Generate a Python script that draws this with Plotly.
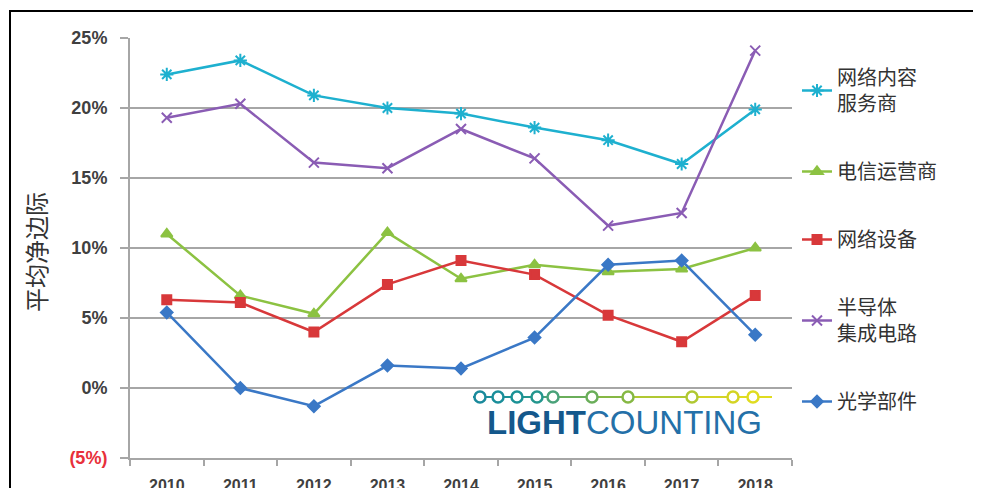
import plotly.graph_objects as go

years = ["2010", "2011", "2012", "2013", "2014", "2015", "2016", "2017", "2018"]

icp = [22.4, 23.4, 20.9, 20.0, 19.6, 18.6, 17.7, 16.0, 19.9]      # 网络内容服务商
telco = [11.0, 6.6, 5.3, 11.1, 7.8, 8.8, 8.3, 8.5, 10.0]          # 电信运营商
neteq = [6.3, 6.1, 4.0, 7.4, 9.1, 8.1, 5.2, 3.3, 6.6]             # 网络设备
semi = [19.3, 20.3, 16.1, 15.7, 18.5, 16.4, 11.6, 12.5, 24.1]     # 半导体集成电路
optic = [5.4, 0.0, -1.3, 1.6, 1.4, 3.6, 8.8, 9.1, 3.8]            # 光学部件

series_names = ["网络内容<br>服务商", "电信运营商", "网络设备", "半导体<br>集成电路", "光学部件"]
tick_vals = [-5, 0, 5, 10, 15, 20, 25]
tick_text = ["<span style='color:#e8303a'>(5%)</span>", "0%", "5%", "10%", "15%", "20%", "25%"]

OFF = 8  # page body margin
W, H = 981 - OFF, 488 - OFF
# plot area in screen pixels
L, R, T, B = 130, 792, 38, 458


def px(x):
    return (x - L) / (R - L)


def py(y):
    return (B - y) / (B - T)


fig = go.Figure()
styles = [
    (icp, "#1eb0cf", "asterisk-open", 11),
    (telco, "#8cc242", "triangle-up", 10),
    (neteq, "#d8383a", "square", 9),
    (semi, "#8a5cb4", "x-thin-open", 10),
    (optic, "#3a78c6", "diamond", 9),
]
for i, ((vals, col, sym, sz), name) in enumerate(zip(styles, series_names)):
    fig.add_trace(go.Scatter(
        x=years, y=vals, name=name, mode="lines+markers", legendgroup=f"g{i}",
        line=dict(color=col, width=2.5),
        marker=dict(symbol=sym, size=sz, color=col, line=dict(color=col, width=2)),
    ))

shapes = []
# white box behind logo (hides part of the 0% gridline)
shapes.append(dict(type="rect", xref="paper", yref="paper", layer="between",
                   x0=px(445), x1=px(791), y0=py(442), y1=py(376),
                   fillcolor="white", line=dict(width=0)))
# logo beaded line
circ_x = [480, 498, 517, 537, 553, 592, 628, 692, 733, 753]
circ_c = ["#1a8a9c", "#1a8e9a", "#1b9296", "#24968e", "#4aa27a", "#6aae5a", "#86b844",
          "#b0c832", "#d4d424", "#e0dc20"]
seg_pts = [473] + circ_x + [772]
seg_cols = circ_c + [circ_c[-1]]
for i in range(len(seg_pts) - 1):
    shapes.append(dict(type="line", xref="paper", yref="paper",
                       x0=px(seg_pts[i]), x1=px(seg_pts[i + 1]), y0=py(397), y1=py(397),
                       line=dict(color=seg_cols[i], width=2)))
for cx, cc in zip(circ_x, circ_c):
    shapes.append(dict(type="circle", xref="paper", yref="paper",
                       xsizemode="pixel", ysizemode="pixel",
                       xanchor=px(cx), yanchor=py(397),
                       x0=-5.5, x1=5.5, y0=-5.5, y1=5.5,
                       fillcolor="white", line=dict(color=cc, width=2.5)))
# outer black frame
shapes.append(dict(type="rect", xref="paper", yref="paper",
                   x0=px(10), x1=px(1000), y0=py(500), y1=py(11),
                   line=dict(color="black", width=2), fillcolor="rgba(0,0,0,0)"))

annotations = [
    dict(text="平均净边际", xref="paper", yref="paper", x=px(35), y=py(252),
         textangle=-90, showarrow=False, xanchor="center", yanchor="middle",
         font=dict(family="Noto Sans CJK SC", size=24, color="#333333")),
    dict(text="<b><span style='color:#14588c'>LIGHT</span></b><span style='color:#2470a8'>COUNTING</span>",
         xref="paper", yref="paper", x=px(624), y=py(422), showarrow=False,
         xanchor="center", yanchor="middle",
         font=dict(family="Liberation Sans", size=33)),
]

fig.update_layout(
    width=W, height=H,
    margin=dict(l=L - OFF, r=W - (R - OFF), t=T - OFF, b=H - (B - OFF), autoexpand=False),
    paper_bgcolor="white", plot_bgcolor="white",
    shapes=shapes, annotations=annotations,
    showlegend=True,
    legend=dict(xref="container", yref="container", x=(797 - OFF) / W, y=1 - (58 - OFF) / H,
                xanchor="left", yanchor="top", maxheight=H,
                font=dict(family="Noto Sans CJK SC", size=20, color="#333333"),
                tracegroupgap=39, itemwidth=30, bgcolor="rgba(0,0,0,0)"),
    xaxis=dict(type="category", range=[-0.5, 8.5], showgrid=False, automargin=False,
               showline=True, linecolor="#a6a6a6", linewidth=2,
               ticks="outside", tickson="boundaries", ticklen=6, tickcolor="#a6a6a6", tickwidth=2,
               ticklabelstandoff=12,
               tickfont=dict(family="Liberation Sans", size=16, color="#404040", weight="bold")),
    yaxis=dict(range=[-5, 25], tickvals=tick_vals, ticktext=tick_text, automargin=False,
               showgrid=True, gridcolor="#a6a6a6", gridwidth=2,
               zeroline=False, showline=True, linecolor="#a6a6a6", linewidth=2,
               ticks="outside", ticklen=8, tickcolor="#a6a6a6", tickwidth=2,
               ticklabelstandoff=9,
               tickfont=dict(family="Liberation Sans", size=18, color="#404040", weight="bold")),
)

fig.write_html("out.html")
